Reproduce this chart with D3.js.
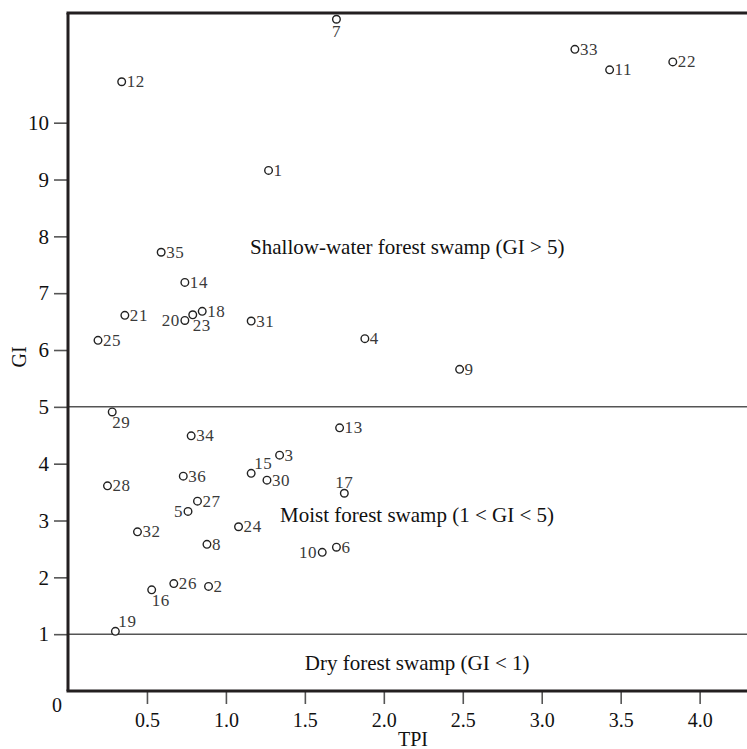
<!DOCTYPE html>
<html>
<head>
<meta charset="utf-8">
<script src="https://cdn.jsdelivr.net/npm/d3@7/dist/d3.min.js"></script>
<style>
  html, body { margin: 0; padding: 0; background: #fff; }
  svg { display: block; }
</style>
</head>
<body>
<svg id="chart" width="747" height="749"></svg>
<script>
// ---- data ----
const siteIds = [1,2,3,4,5,6,7,8,9,10,11,12,13,14,15,16,17,18,19,20,21,22,23,24,25,26,27,28,29,30,31,32,33,34,35,36];
const tpiValues = [1.27,0.89,1.34,1.88,0.76,1.70,1.70,0.88,2.48,1.61,3.43,0.34,1.72,0.74,1.16,0.53,1.75,0.85,0.30,0.74,0.36,3.83,0.79,1.08,0.19,0.67,0.82,0.25,0.28,1.26,1.16,0.44,3.21,0.78,0.59,0.73];
const giValues  = [9.16,1.84,4.15,6.20,3.16,2.53,11.82,2.58,5.66,2.44,10.93,10.72,4.63,7.19,3.83,1.78,3.48,6.68,1.05,6.52,6.61,11.07,6.62,2.89,6.17,1.89,3.34,3.61,4.91,3.71,6.51,2.80,11.29,4.49,7.72,3.78];
const xTickValues = [0.5,1.0,1.5,2.0,2.5,3.0,3.5,4.0];
const yTickValues = [1,2,3,4,5,6,7,8,9,10];
const thresholds = [5, 1];
const regionLabels = [
  {text: "Shallow-water forest swamp (GI > 5)", tpi: 1.153, gi: 7.69},
  {text: "Moist forest swamp (1 < GI < 5)", tpi: 1.343, gi: 2.97},
  {text: "Dry forest swamp (GI < 1)", tpi: 1.50, gi: 0.37}
];
// label placement: r = right (default), l = left, b = below, br = below-right, ar = above-right, a = above
const labelPlacement = {7:"b", 20:"l", 23:"br", 29:"br", 15:"ar", 17:"a", 5:"l", 10:"l", 16:"br", 19:"ar"};

const points = siteIds.map((id, i) => ({id, tpi: tpiValues[i], gi: giValues[i]}));

// ---- layout ----
const svg = d3.select("#chart");
const x = d3.scaleLinear().domain([0, 4.3]).range([68, 747]);
const y = d3.scaleLinear().domain([0, 11.93]).range([691, 13]);

const serif = "'Liberation Serif', 'Times New Roman', serif";
const axisColor = "#231f20";

// threshold lines
svg.selectAll("line.thr").data(thresholds).join("line")
  .attr("class", "thr")
  .attr("x1", x(0)).attr("x2", 747)
  .attr("y1", d => y(d)).attr("y2", d => y(d))
  .attr("stroke", "#555").attr("stroke-width", 1.5);

// axes
const yAxis = d3.axisLeft(y).tickValues(yTickValues).tickSize(14).tickPadding(5).tickFormat(d3.format("d"));
const gy = svg.append("g").attr("transform", `translate(${x(0)},0)`).call(yAxis);
gy.select(".domain").remove();
gy.selectAll(".tick line").attr("stroke", "#555").attr("stroke-width", 1.6);
gy.selectAll(".tick text").attr("font-family", serif).attr("font-size", 21).attr("fill", "#111");

const xAxis = d3.axisBottom(x).tickValues(xTickValues).tickSize(13).tickPadding(9).tickFormat(d3.format(".1f"));
const gx = svg.append("g").attr("transform", `translate(0,${y(0)})`).call(xAxis);
gx.select(".domain").remove();
gx.selectAll(".tick line").attr("stroke", "#555").attr("stroke-width", 1.6);
gx.selectAll(".tick text").attr("font-family", serif).attr("font-size", 20).attr("fill", "#111");

// frame: left, bottom, top
svg.append("line").attr("x1", x(0)).attr("x2", x(0)).attr("y1", y.range()[1]).attr("y2", y(0))
  .attr("stroke", axisColor).attr("stroke-width", 3);
svg.append("line").attr("x1", x(0) - 1.5).attr("x2", 747).attr("y1", y(0)).attr("y2", y(0))
  .attr("stroke", axisColor).attr("stroke-width", 3);
svg.append("line").attr("x1", x(0) - 1.5).attr("x2", 747).attr("y1", y.range()[1]).attr("y2", y.range()[1])
  .attr("stroke", axisColor).attr("stroke-width", 3);

// origin label
svg.append("text").attr("x", x(0) - 11).attr("y", y(0) + 21)
  .attr("text-anchor", "middle").attr("font-family", serif).attr("font-size", 20).attr("fill", "#111")
  .text("0");

// axis titles
svg.append("text").attr("transform", `translate(26,357) rotate(-90)`)
  .attr("text-anchor", "middle").attr("font-family", serif).attr("font-size", 20).attr("fill", "#111")
  .text("GI");
svg.append("text").attr("x", 413).attr("y", 746)
  .attr("text-anchor", "middle").attr("font-family", serif).attr("font-size", 20).attr("fill", "#111")
  .text("TPI");

// region labels
svg.selectAll("text.region").data(regionLabels).join("text")
  .attr("class", "region")
  .attr("x", d => x(d.tpi)).attr("y", d => y(d.gi))
  .attr("font-family", serif).attr("font-size", 21).attr("fill", "#111")
  .text(d => d.text);

// points
svg.selectAll("circle.pt").data(points).join("circle")
  .attr("class", "pt")
  .attr("cx", d => x(d.tpi)).attr("cy", d => y(d.gi)).attr("r", 3.8)
  .attr("fill", "#fff").attr("stroke", "#222").attr("stroke-width", 1.4);

function labelAttrs(d) {
  const p = labelPlacement[d.id] || "r";
  switch (p) {
    case "l":  return {dx: -5, dy: 5.5, anchor: "end"};
    case "b":  return {dx: 0, dy: 18, anchor: "middle"};
    case "br": return {dx: 0, dy: 16, anchor: "start"};
    case "ar": return {dx: 3, dy: -4, anchor: "start"};
    case "a":  return {dx: 0, dy: -5, anchor: "middle"};
    default:   return {dx: 5, dy: 5.5, anchor: "start"};
  }
}
svg.selectAll("text.lbl").data(points).join("text")
  .attr("class", "lbl")
  .attr("x", d => x(d.tpi) + labelAttrs(d).dx)
  .attr("y", d => y(d.gi) + labelAttrs(d).dy)
  .attr("text-anchor", d => labelAttrs(d).anchor)
  .attr("font-family", serif).attr("font-size", 17).attr("letter-spacing", 0.6)
  .attr("fill", "#3a3a3a")
  .text(d => d.id);
</script>
</body>
</html>
